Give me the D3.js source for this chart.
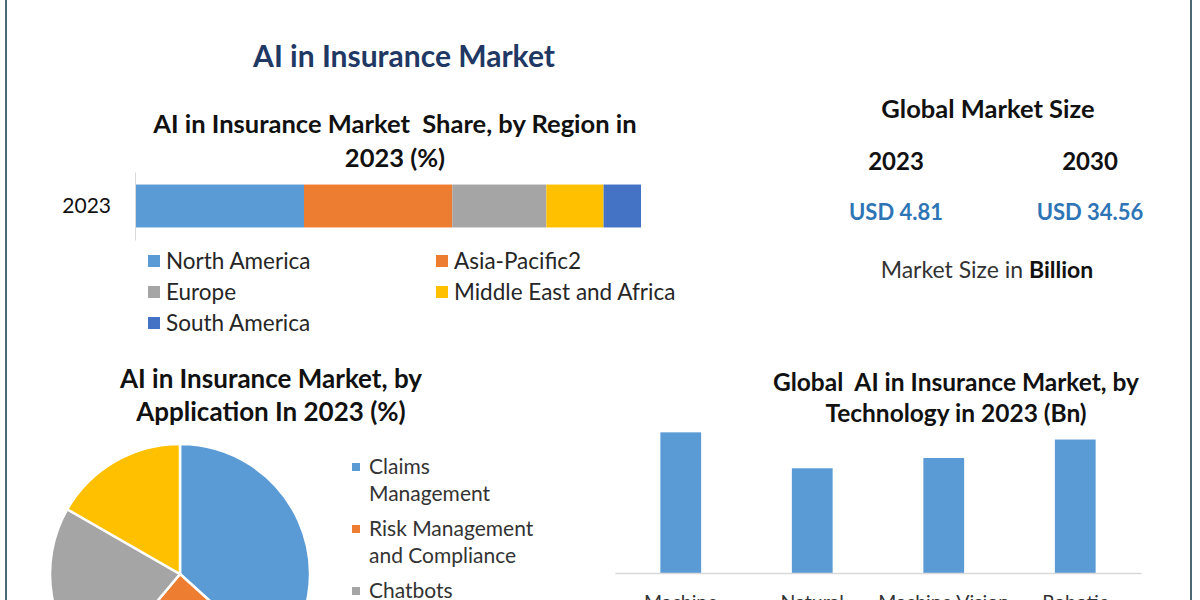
<!DOCTYPE html>
<html>
<head>
<meta charset="utf-8">
<script src="https://cdn.jsdelivr.net/npm/d3@7"></script>
<style>
  body { margin: 0; background: #fff; }
  svg { display: block; font-family: Lato, "Open Sans", sans-serif; }
  text { white-space: pre; }
</style>
</head>
<body>
<div id="container"></div>
<script>
// data
const regions = ["North America", "Asia-Pacific2", "Europe", "Middle East and Africa", "South America"];
const regionShare = [33.4, 29.3, 18.6, 11.3, 7.4];
const regionColors = ["#5b9bd5", "#ed7d31", "#a5a5a5", "#ffc000", "#4472c4"];
const regionYear = ["2023"];

const applications = ["Claims Management", "Risk Management and Compliance", "Chatbots", "Others"];
const applicationLines = [["Claims", "Management"], ["Risk Management", "and Compliance"], ["Chatbots"], ["Others"]];
const applicationShare = [36.7, 24.4, 22.2, 16.7];
const applicationColors = ["#5b9bd5", "#ed7d31", "#a5a5a5", "#ffc000"];

const technologies = ["Machine Learning", "Natural Language Processing", "Machine Vision", "Robotic Process Automation"];
const technologyLines = [["Machine", "Learning"], ["Natural", "Language", "Processing"], ["Machine Vision"], ["Robotic", "Process", "Automation"]];
const technologyValues = [1.37, 1.02, 1.12, 1.30];

const marketYears = ["2023", "2030"];
const marketValues = [4.81, 34.56];

const width = 1200, height = 600;

const svg = d3.select("#container")
  .append("svg")
  .attr("width", width)
  .attr("height", height)

// frame lines
svg.selectAll("line.frame")
  .data([6, 1191])
  .join("line")
  .attr("class", "frame")
  .attr("x1", d => d).attr("x2", d => d)
  .attr("y1", 0).attr("y2", height)
  .attr("stroke", "#4d6a74")
  .attr("stroke-width", 2)

// main title
svg.append("text")
  .attr("x", 404).attr("y", 67)
  .attr("text-anchor", "middle")
  .style("font-size", "30px")
  .style("font-weight", "bold")
  .style("fill", "#1f3864")
  .text("AI in Insurance Market")

function title(lines, cx, y0, gap, size) {
  svg.append("text")
    .attr("text-anchor", "middle")
    .style("font-size", size + "px")
    .style("font-weight", "bold")
    .style("fill", "#111")
    .selectAll("tspan")
    .data(lines)
    .join("tspan")
    .attr("x", cx)
    .attr("y", (_, i) => y0 + i * gap)
    .text(d => d)
}

/**
 * REGION STACKED BAR
 * */
title(["AI in Insurance Market  Share, by Region in", "2023 (%)"], 395, 133, 34, 25.5)

const xRegion = d3.scaleLinear().domain([0, 100]).range([135, 641]);
const yRegion = d3.scaleBand().domain(regionYear).range([172, 240]).paddingInner(0.35).paddingOuter(0.19);

const stackRows = [Object.fromEntries(regions.map((r, i) => [r, regionShare[i]]))];
const stacked = d3.stack().keys(regions)(stackRows);

svg.selectAll("rect.region")
  .data(stacked)
  .join("rect")
  .attr("class", "region")
  .attr("x", d => xRegion(d[0][0]))
  .attr("width", d => xRegion(d[0][1]) - xRegion(d[0][0]))
  .attr("y", yRegion(regionYear[0]))
  .attr("height", yRegion.bandwidth())
  .attr("fill", (d, i) => regionColors[i])

svg.append("g")
  .attr("transform", `translate(${xRegion(0)},0)`)
  .call(d3.axisLeft(yRegion).tickSize(0).tickPadding(24))
  .call(g => g.select(".domain").attr("stroke", "#d9d9d9"))
  .call(g => g.selectAll("text").style("font-size", "21px").style("font-family", "Lato, sans-serif").attr("fill", "#111"))

const regionLegend = svg.selectAll("g.rlegend")
  .data(regions)
  .join("g")
  .attr("class", "rlegend")
  .attr("transform", (d, i) => `translate(${i % 2 === 0 ? 148 : 436},${261 + Math.floor(i / 2) * 31})`)

regionLegend.append("rect")
  .attr("x", 0).attr("y", -6)
  .attr("width", 12).attr("height", 12)
  .attr("fill", (d, i) => regionColors[i])

regionLegend.append("text")
  .attr("x", 18).attr("dy", "0.35em")
  .style("font-size", "22.5px")
  .style("fill", "#262626")
  .text(d => d)

/**
 * MARKET SIZE PANEL
 * */
title(["Global Market Size"], 988, 118, 0, 25.5)

const xYear = d3.scalePoint().domain(marketYears).range([896, 1090]);

svg.selectAll("text.year")
  .data(marketYears)
  .join("text")
  .attr("class", "year")
  .attr("x", d => xYear(d))
  .attr("y", 170)
  .attr("text-anchor", "middle")
  .style("font-size", "24px")
  .style("font-weight", "bold")
  .style("fill", "#111")
  .text(d => d)

svg.selectAll("text.usd")
  .data(marketValues)
  .join("text")
  .attr("class", "usd")
  .attr("x", (d, i) => xYear(marketYears[i]))
  .attr("y", 220)
  .attr("text-anchor", "middle")
  .style("font-size", "22px")
  .style("font-weight", "bold")
  .style("fill", "#2e75b6")
  .text(d => "USD " + d)

const unit = svg.append("text")
  .attr("x", 987).attr("y", 278)
  .attr("text-anchor", "middle")
  .style("font-size", "23px")
  .style("fill", "#333")
unit.append("tspan").text("Market Size in ")
unit.append("tspan").style("font-weight", "bold").style("fill", "#111").text("Billion")

/**
 * APPLICATION PIE
 * */
title(["AI in Insurance Market, by", "Application In 2023 (%)"], 271, 388, 33, 26)

const pie = d3.pie().sort(null).value(d => d)(applicationShare);
const arc = d3.arc().innerRadius(0).outerRadius(130);

svg.append("g")
  .attr("transform", "translate(180,574)")
  .selectAll("path")
  .data(pie)
  .join("path")
  .attr("d", arc)
  .attr("fill", (d, i) => applicationColors[i])
  .attr("stroke", "#fff")
  .attr("stroke-width", 2.5)

// legend rows; only those that start inside the picture are drawn
let ly = 467;
const appRows = applications.map((d, i) => {
  const row = { name: d, lines: applicationLines[i], color: applicationColors[i], y: ly };
  ly += applicationLines[i].length * 27 + 8;
  return row;
}).filter(r => r.y < height);

const appLegend = svg.selectAll("g.alegend")
  .data(appRows)
  .join("g")
  .attr("class", "alegend")
  .attr("transform", d => `translate(352,${d.y})`)

appLegend.append("rect")
  .attr("x", 0).attr("y", -4)
  .attr("width", 8).attr("height", 8)
  .attr("fill", d => d.color)

appLegend.append("text")
  .style("font-size", "21px")
  .style("fill", "#333")
  .selectAll("tspan")
  .data(d => d.lines)
  .join("tspan")
  .attr("x", 17)
  .attr("y", (_, j) => j * 27)
  .attr("dy", "0.35em")
  .text(d => d)

/**
 * TECHNOLOGY BARS
 * */
title(["Global  AI in Insurance Market, by", "Technology in 2023 (Bn)"], 956, 391, 31, 24.5)

const xTech = d3.scaleBand().domain(technologies).range([615, 1141]).paddingInner(0.69).paddingOuter(0.345);
const yTech = d3.scaleLinear().domain([0, 1.5]).range([573, 419]);

svg.selectAll("rect.tech")
  .data(technologyValues)
  .join("rect")
  .attr("class", "tech")
  .attr("x", (d, i) => xTech(technologies[i]))
  .attr("width", xTech.bandwidth())
  .attr("y", d => yTech(d))
  .attr("height", d => yTech(0) - yTech(d))
  .attr("fill", "#5b9bd5")

const techAxis = svg.append("g")
  .attr("transform", `translate(0,${yTech(0)})`)
  .call(d3.axisBottom(xTech).tickSize(0).tickFormat(""))
techAxis.select(".domain").attr("stroke", "#d9d9d9").attr("stroke-width", 1.5)

// only the first line of each label falls inside the picture
svg.selectAll("text.techlabel")
  .data(technologies)
  .join("text")
  .attr("class", "techlabel")
  .attr("text-anchor", "middle")
  .attr("x", d => xTech(d) + xTech.bandwidth() / 2)
  .attr("y", 609)
  .style("font-size", "19.5px")
  .style("fill", "#333")
  .text((d, i) => technologyLines[i][0])
</script>
</body>
</html>
